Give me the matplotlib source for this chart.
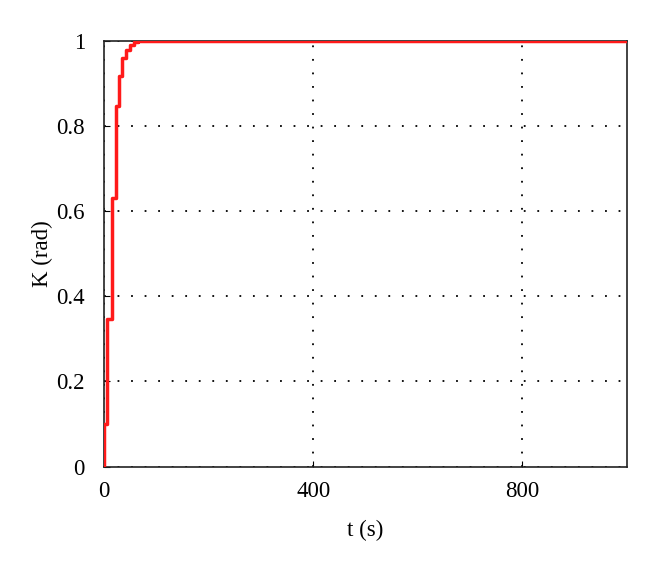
import matplotlib
matplotlib.use('Agg')
from matplotlib import pyplot as plt
import numpy as np

plt.rcParams['font.family'] = ['Liberation Serif', 'DejaVu Serif']
plt.rcParams['font.size'] = 16

# step response
t_steps = [0, 6, 14, 21.5, 28, 34, 41, 49, 57, 64, 1000]
k_vals = [0.10, 0.347, 0.632, 0.846, 0.918, 0.959, 0.979, 0.99, 0.997, 1.0, 1.0]
x_ticks = [0, 400, 800]
y_ticks = [0, 0.2, 0.4, 0.6, 0.8, 1]
y_labels = ['0', '0.2', '0.4', '0.6', '0.8', '1']


def main():
    fig = plt.figure(figsize=(6.6, 5.67), dpi=100)
    ax = fig.add_axes([0.158, 0.177, 0.792, 0.751])

    t = np.array([0] + t_steps)
    k = np.array([0] + k_vals)
    ax.plot(t, k, drawstyle='steps-post', color='#ff1a1a', lw=2.5, zorder=3)

    ax.set_xlim(0, 1000)
    ax.set_ylim(0, 1)
    ax.set_xticks(x_ticks)
    ax.set_yticks(y_ticks)
    ax.set_yticklabels(y_labels)
    ax.tick_params(axis='y', direction='in', length=4, width=0.8, pad=14, labelsize=16.5)
    ax.tick_params(axis='x', direction='in', length=4, width=0.8, pad=10, labelsize=16.5)
    ax.grid(True, color='black', linestyle=(0, (1, 6.5)), linewidth=1.3)
    for s in ax.spines.values():
        s.set_linewidth(1.2)
        s.set_color('#222222')

    ax.set_xlabel('t (s)', fontsize=16.5, labelpad=13)
    ax.set_ylabel('K (rad)', fontsize=16.5, labelpad=2)

    fig.savefig('out.png', dpi=100)


if __name__ == '__main__':
    main()
